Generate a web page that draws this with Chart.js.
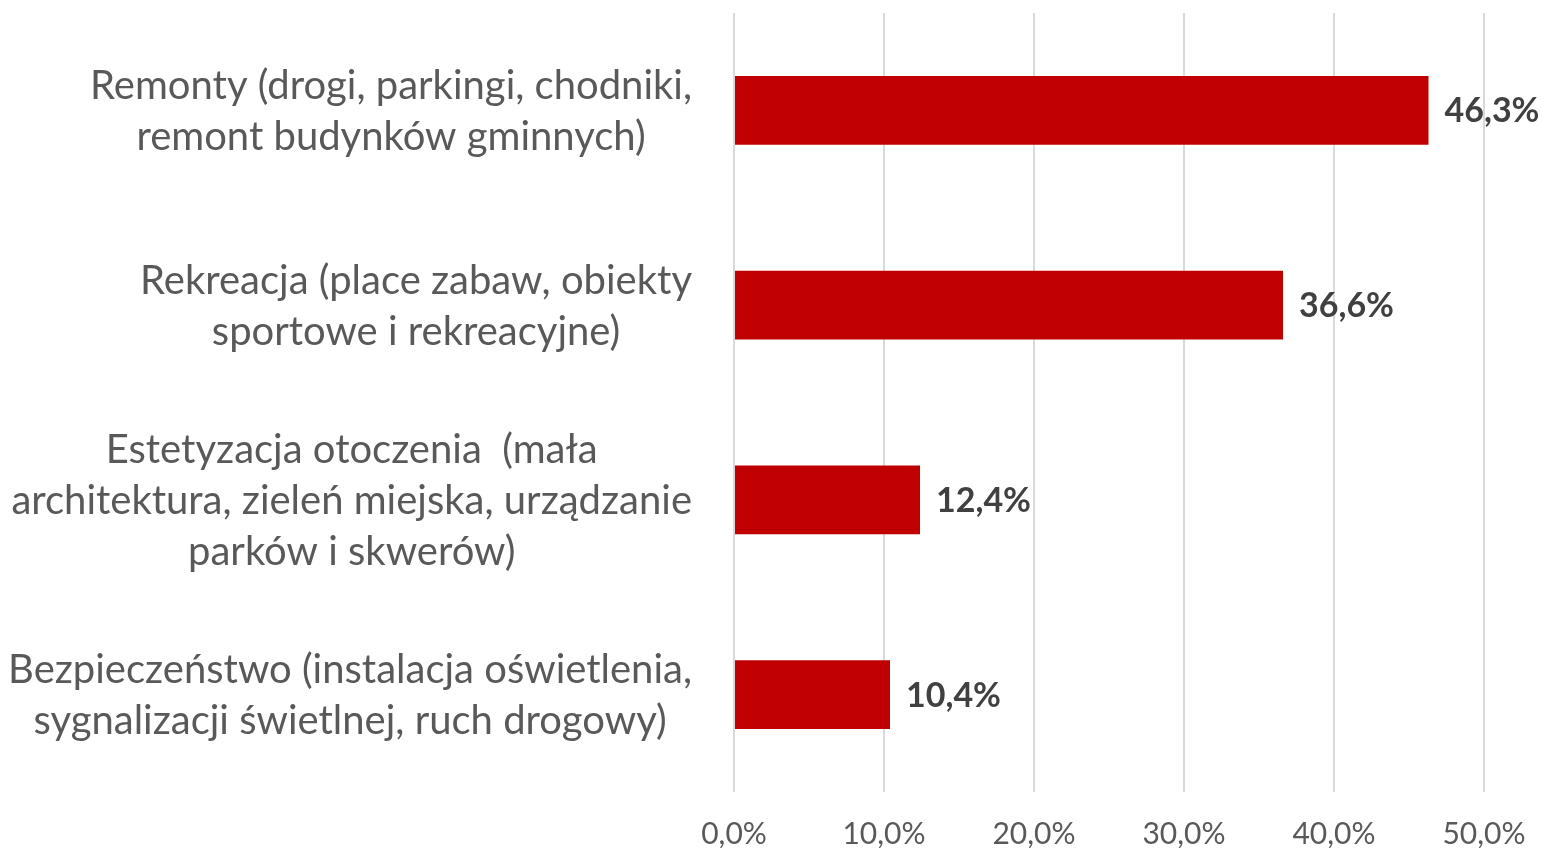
<!DOCTYPE html>
<html>
<head>
<meta charset="utf-8">
<script src="https://cdn.jsdelivr.net/npm/chart.js@4/dist/chart.umd.min.js"></script>
<style>
html,body{margin:0;padding:0;background:#fff;}
#wrap{width:1542px;height:848px;}
</style>
</head>
<body>
<div id="wrap"><canvas id="c" width="1542" height="848"></canvas></div>
<script>
const categories = [
  ["Remonty (drogi, parkingi, chodniki,", "remont budynków gminnych)"],
  ["Rekreacja (place zabaw, obiekty", "sportowe i rekreacyjne)"],
  ["Estetyzacja otoczenia  (mała", "architektura, zieleń miejska, urządzanie", "parków i skwerów)"],
  ["Bezpieczeństwo (instalacja oświetlenia,", "sygnalizacji świetlnej, ruch drogowy)"]
];
const values = [46.3, 36.6, 12.4, 10.4];
const tickValues = [0, 10, 20, 30, 40, 50];

const FONT = 'Lato';
const fmt = v => v.toFixed(1).replace('.', ',') + '%';

const labelPlugin = {
  id: 'customLabels',
  afterDatasetsDraw(chart) {
    const ctx = chart.ctx;
    const meta = chart.getDatasetMeta(0);
    ctx.save();
    ctx.font = 'bold 34px ' + FONT;
    ctx.fillStyle = '#404040';
    ctx.textBaseline = 'middle';
    ctx.textAlign = 'left';
    meta.data.forEach((bar, i) => {
      ctx.fillText(fmt(values[i]), bar.x + 16, bar.y + 1);
    });
    const ys = chart.scales.y;
    ctx.font = '40px ' + FONT;
    ctx.fillStyle = '#595959';
    ctx.textAlign = 'center';
    categories.forEach((lines, i) => {
      const cy = ys.getPixelForValue(i) + 1;
      const w = Math.max(...lines.map(l => ctx.measureText(l).width));
      const cx = ys.right - 42 - w / 2;
      lines.forEach((l, j) => {
        ctx.fillText(l, cx, cy + (j - (lines.length - 1) / 2) * 51);
      });
    });
    ctx.restore();
  }
};

new Chart(document.getElementById('c'), {
  type: 'bar',
  data: {
    labels: categories,
    datasets: [{
      data: values,
      backgroundColor: '#C00000',
      borderWidth: 0,
      barPercentage: 0.354,
      categoryPercentage: 1
    }]
  },
  options: {
    indexAxis: 'y',
    responsive: false,
    animation: false,
    layout: { padding: { left: 0, right: 58, top: 13, bottom: 0 } },
    plugins: { legend: { display: false }, tooltip: { enabled: false } },
    scales: {
      y: {
        type: 'category',
        ticks: { display: false },
        grid: { display: false },
        border: { display: false },
        afterFit(s) { s.width = 734; }
      },
      x: {
        min: 0, max: 50,
        afterBuildTicks(s) { s.ticks = tickValues.map(v => ({ value: v })); },
        ticks: {
          callback: v => fmt(v),
          font: { family: FONT, size: 30 },
          color: '#595959',
          padding: 24,
          maxRotation: 0
        },
        grid: { color: '#d9d9d9', lineWidth: 2, drawTicks: false },
        border: { display: false },
        afterFit(s) { s.height = 56; s.paddingLeft = 0; s.paddingRight = 0; }
      }
    }
  },
  plugins: [labelPlugin]
});
</script>
</body>
</html>
